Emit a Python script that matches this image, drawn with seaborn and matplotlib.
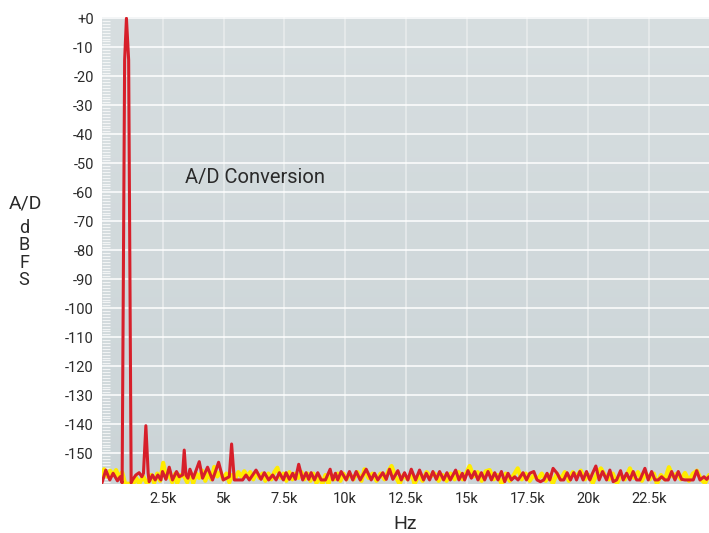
import numpy as np
import pandas as pd
import matplotlib
matplotlib.use("Agg")
import matplotlib.pyplot as plt
import seaborn as sns
from matplotlib.ticker import MultipleLocator, FixedLocator
from matplotlib.colors import LinearSegmentedColormap

# ---------------- data ----------------
red_hz = [0, 155, 321, 457, 634, 746, 828, 931, 1005, 1096, 1199, 1252, 1392, 1528, 1639,
          1705, 1804, 1899, 1940, 2076, 2187, 2298, 2422, 2488, 2628, 2764, 2900, 3065, 3176,
          3312, 3382, 3452, 3534, 3617, 3752, 4000, 4136, 4341, 4547, 4795, 4988, 5235, 5330,
          5441, 5647, 5783, 5923, 6059, 6335, 6541, 6677, 6854, 7019, 7159, 7295, 7460, 7571,
          7707, 7843, 7954, 8090, 8255, 8395, 8502, 8601, 8737, 8873, 9012, 9190, 9383, 9490,
          9601, 9696, 9836, 10042, 10178, 10314, 10454, 10619, 10866, 11072, 11208, 11344,
          11550, 11690, 11826, 11962, 12168, 12308, 12443, 12580, 12720, 12897, 13061, 13226,
          13337, 13473, 13609, 13749, 13885, 14050, 14186, 14326, 14544, 14680, 14820, 14915,
          15051, 15191, 15327, 15463, 15603, 15739, 15875, 16015, 16151, 16287, 16427, 16563,
          16699, 16839, 16975, 17111, 17317, 17457, 17593, 17758, 17893, 18033, 18169, 18305,
          18416, 18552, 18717, 18857, 18993, 19129, 19268, 19404, 19516, 19652, 19788, 19928,
          20064, 20175, 20311, 20447, 20587, 20752, 20888, 21024, 21164, 21328, 21435, 21575,
          21711, 21847, 21987, 22123, 22329, 22465, 22605, 22741, 22877, 23017, 23153, 23289,
          23429, 23565, 23701, 23841, 23977, 24112, 24318, 24458, 24594, 24759, 24870, 24965]
red_db = [-160.2, -155.8, -159.2, -156.9, -159.5, -158.1, -160.2, -14.4, 0.0, -14.4, -160.2,
          -159.2, -157.5, -156.7, -158.1, -156.9, -140.5, -156.9, -159.8, -157.5, -159.2,
          -157.5, -159.2, -156.3, -159.0, -154.8, -159.2, -156.3, -158.1, -157.5, -148.9,
          -157.5, -158.6, -155.5, -158.6, -152.9, -158.6, -154.8, -159.2, -153.1, -159.2,
          -158.1, -146.8, -159.2, -159.2, -159.2, -157.5, -159.2, -155.8, -159.0, -156.7,
          -159.2, -157.5, -159.2, -156.7, -159.2, -156.7, -159.0, -156.9, -159.0, -153.8,
          -159.2, -156.7, -159.0, -156.7, -159.2, -156.7, -159.2, -159.2, -155.5, -159.2,
          -156.9, -159.2, -156.3, -159.2, -156.3, -159.2, -156.3, -159.2, -155.5, -159.2,
          -156.9, -159.2, -156.7, -159.0, -155.5, -159.0, -156.0, -159.2, -156.7, -159.2,
          -155.5, -159.2, -155.8, -159.2, -156.9, -159.2, -156.3, -159.0, -156.3, -159.2,
          -156.7, -159.2, -155.8, -159.2, -156.9, -159.2, -156.0, -158.6, -156.3, -159.2,
          -156.7, -159.2, -156.3, -159.2, -156.7, -159.2, -156.3, -159.8, -156.9, -159.2,
          -158.1, -159.2, -156.7, -159.2, -156.9, -156.3, -159.2, -159.8, -159.2, -156.9,
          -159.2, -155.2, -156.9, -159.2, -159.2, -156.7, -159.2, -156.7, -159.2, -156.3,
          -159.2, -156.3, -159.2, -156.9, -154.4, -159.2, -156.3, -159.2, -155.8, -159.8,
          -159.2, -156.0, -159.2, -156.9, -159.2, -156.3, -159.2, -159.2, -155.2, -159.2,
          -156.3, -159.2, -159.2, -158.1, -159.2, -159.2, -156.3, -159.2, -156.3, -159.0,
          -159.2, -159.2, -159.2, -156.0, -159.2, -158.1, -159.0, -158.1]

yellow_hz = [0, 86, 210, 334, 457, 580, 704, 828, 951, 1116, 1281, 1405, 1528, 1693, 1858,
             2022, 2146, 2270, 2393, 2517, 2640, 2764, 2888, 3011, 3093, 3217, 3382, 3505,
             3629, 3752, 3876, 4000, 4123, 4247, 4370, 4494, 4617, 4741, 4864, 4988, 5112,
             5235, 5359, 5482, 5606, 5729, 5853, 5977, 6100, 6224, 6347, 6471, 6594, 6718,
             6842, 6965, 7089, 7212, 7336, 7459, 7583, 7707, 7830, 7954, 8077, 8201, 8324,
             8448, 8571, 8695, 8819, 8942, 9066, 9190, 9313, 9437, 9560, 9684, 9807, 9931,
             10054, 10178, 10343, 10507, 10672, 10796, 10961, 11125, 11290, 11455, 11620,
             11785, 11908, 12073, 12238, 12402, 12567, 12732, 12855, 13020, 13185, 13349,
             13514, 13679, 13844, 14008, 14173, 14338, 14503, 14667, 14832, 14997, 15120,
             15285, 15450, 15614, 15779, 15944, 16109, 16273, 16438, 16603, 16768, 16932,
             17097, 17262, 17427, 17591, 17756, 17921, 18086, 18250, 18415, 18539, 18703,
             18868, 19033, 19198, 19362, 19527, 19692, 19857, 20021, 20186, 20351, 20516,
             20681, 20845, 21010, 21175, 21340, 21505, 21711, 21875, 22040, 22205, 22370,
             22534, 22699, 22823, 22987, 23152, 23317, 23482, 23646, 23811, 23976, 24141,
             24305, 24470, 24635, 24800, 24965]
yellow_db = [-157.5, -155.5, -158.0, -156.0, -157.5, -155.8, -158.5, -156.5, -160.5, -160.5,
             -160.6, -158.5, -160.5, -158.0, -160.6, -157.5, -160.2, -157.0, -159.5, -153.3,
             -158.5, -157.0, -160.0, -157.0, -160.3, -157.5, -158.0, -160.0, -156.5, -160.3,
             -157.0, -158.5, -156.0, -159.5, -157.0, -159.0, -154.7, -158.0, -156.5, -159.0,
             -157.0, -160.0, -157.5, -158.5, -156.5, -158.0, -156.2, -158.0, -156.5, -159.0,
             -156.5, -158.5, -157.0, -159.5, -157.0, -159.0, -156.5, -155.0, -158.5, -157.0,
             -159.5, -156.5, -159.0, -157.0, -158.5, -156.5, -159.0, -157.0, -159.5, -157.0,
             -160.3, -158.0, -160.6, -157.5, -160.6, -157.5, -159.0, -157.0, -159.5, -157.0,
             -159.0, -157.0, -159.0, -156.5, -159.5, -155.5, -158.5, -157.0, -159.5, -157.0,
             -159.0, -156.0, -154.4, -158.0, -160.6, -157.5, -159.0, -157.0, -160.6, -157.5,
             -159.5, -156.5, -158.0, -157.0, -159.5, -157.5, -159.5, -157.0, -159.0, -156.5,
             -159.0, -156.5, -154.4, -158.0, -156.5, -159.5, -156.2, -155.8, -159.0, -157.5,
             -160.6, -157.0, -159.5, -157.5, -155.2, -159.0, -157.0, -159.5, -157.5, -159.0,
             -157.0, -159.5, -157.5, -160.6, -157.0, -159.0, -156.5, -159.5, -156.5, -158.0,
             -156.0, -159.0, -157.5, -160.3, -157.0, -155.2, -157.5, -159.0, -157.0, -160.5,
             -157.5, -159.0, -155.2, -158.5, -156.5, -159.5, -157.0, -159.0, -157.0, -160.6,
             -157.5, -159.0, -154.8, -158.0, -157.0, -159.0, -156.8, -159.5, -157.0, -156.0,
             -159.0, -160.3, -157.5]

x_ticks = [2500, 5000, 7500, 10000, 12500, 15000, 17500, 20000, 22500]
x_tick_labels = ["2.5k", "5k", "7.5k", "10k", "12.5k", "15k", "17.5k", "20k", "22.5k"]
y_ticks = [0, -10, -20, -30, -40, -50, -60, -70, -80, -90, -100, -110, -120, -130, -140, -150]
y_tick_labels = ["+0"] + [f"-{abs(v)}" for v in y_ticks[1:]]

# ---------------- figure ----------------
sns.set_theme(style="white")
plt.rcParams["font.family"] = ["Roboto", "DejaVu Sans"]

fig = plt.figure(figsize=(7.09, 5.33), dpi=100)
ax = fig.add_axes([102 / 709, 49 / 533, 607 / 709, 467.3 / 533])

# background gradient
grad = np.linspace(0, 1, 256).reshape(-1, 1)
cmap = LinearSegmentedColormap.from_list("bg", ["#d7dee0", "#cbd4d7"])
ax.imshow(grad, aspect="auto", cmap=cmap, extent=[0, 1, 0, 1],
          transform=ax.transAxes, zorder=0)

df_y = pd.DataFrame({"Hz": yellow_hz, "dB": yellow_db})
df_r = pd.DataFrame({"Hz": red_hz, "dB": red_db})
sns.lineplot(data=df_y, x="Hz", y="dB", ax=ax, color="#ffec00", lw=3.0,
             estimator=None, sort=False, zorder=3)
sns.lineplot(data=df_r, x="Hz", y="dB", ax=ax, color="#d71f2a", lw=2.2,
             estimator=None, sort=False, zorder=4)

ax.set_xlim(0, 24965)
ax.set_ylim(-160.6, 0.55)

ax.xaxis.set_major_locator(FixedLocator(x_ticks))
ax.set_xticklabels(x_tick_labels)
ax.yaxis.set_major_locator(FixedLocator(y_ticks))
ax.set_yticklabels(y_tick_labels)
ax.yaxis.set_minor_locator(MultipleLocator(1))

ax.grid(True, which="major", axis="y", color="white", lw=1.2, alpha=0.9, zorder=1)
ax.grid(True, which="major", axis="x", color="#e6eaeb", lw=1.4, alpha=0.9, zorder=1)
ax.set_axisbelow(True)

ax.tick_params(axis="both", which="major", length=0, labelsize=10.5,
               labelcolor="#2a2a2a", pad=6)
ax.tick_params(axis="y", which="minor", direction="in", length=6, width=0.9,
               color=(1, 1, 1, 0.75), left=True)
for s in ax.spines.values():
    s.set_visible(False)

ax.set_xlabel("Hz", fontsize=14, color="#2a2a2a", labelpad=6)
ax.set_ylabel("")

ax.text(3400, -55, "A/D Conversion", fontsize=14.5, color="#2a2a2a",
        va="center", ha="left", zorder=5)

fig.text(25 / 709, 1 - 204 / 533, "A/D", fontsize=14, color="#2a2a2a",
         ha="center", va="center")
fig.text(24 / 709, 1 - 254 / 533, "d\nB\nF\nS", fontsize=13, color="#2a2a2a",
         ha="center", va="center", linespacing=0.95)

fig.savefig("out.png", dpi=100)
